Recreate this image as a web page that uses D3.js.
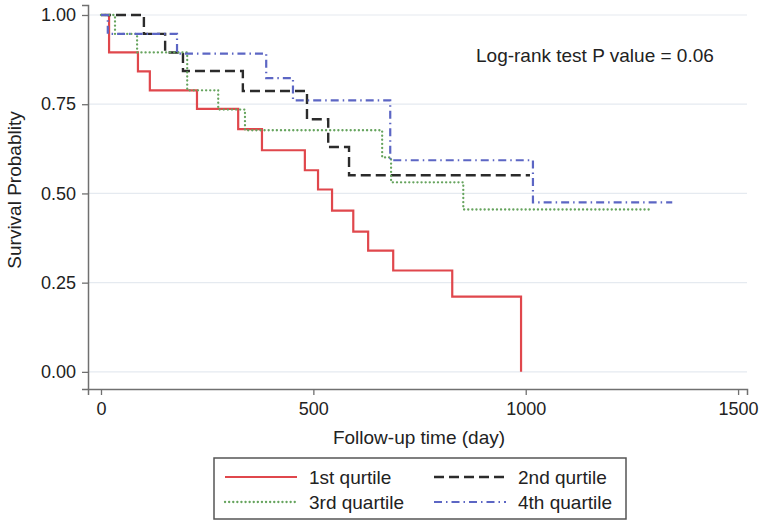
<!DOCTYPE html>
<html>
<head>
<meta charset="utf-8">
<script src="https://cdn.jsdelivr.net/npm/d3@7"></script>
<style>
  html, body { margin: 0; padding: 0; background: #ffffff; }
  svg { display: block; font-family: "Liberation Sans", Arial, Helvetica, sans-serif; }
</style>
</head>
<body>
<svg id="chart" width="760" height="526"></svg>
<script>
// ---- Data ----
const q1Days = [0, 19, 87, 115, 226, 323, 379, 480, 511, 544, 594, 629, 688, 827, 989];
const q1Surv = [1, 0.895, 0.842, 0.789, 0.737, 0.68, 0.621, 0.565, 0.511, 0.452, 0.393, 0.34, 0.284, 0.211, 0];

const q2Days = [0, 101, 151, 193, 334, 485, 535, 584, 1010];
const q2Surv = [1, 0.947, 0.895, 0.843, 0.787, 0.708, 0.630, 0.551, 0.551];

const q3Days = [0, 33, 85, 203, 276, 339, 662, 683, 853, 1298];
const q3Surv = [1, 0.947, 0.895, 0.789, 0.735, 0.677, 0.601, 0.531, 0.455, 0.455];

const q4Days = [0, 16, 179, 389, 452, 681, 1017, 1345];
const q4Surv = [1, 0.947, 0.892, 0.823, 0.761, 0.593, 0.475, 0.475];

const seriesNames = ["1st qurtile", "2nd qurtile", "3rd quartile", "4th quartile"];
const xTicks = [0, 500, 1000, 1500];
const yTicks = [0, 0.25, 0.5, 0.75, 1];
const xTitle = "Follow-up time (day)";
const yTitle = "Survival Probablity";
const note = "Log-rank test P value = 0.06";

// ---- Styles ----
const styles = [
  { color: "#e0474c", width: 2.2, dash: null, cap: "butt" },
  { color: "#2b2b2b", width: 2.4, dash: "10,5", cap: "butt" },
  { color: "#66a45e", width: 2.3, dash: "0.1,4", cap: "round" },
  { color: "#5c66c4", width: 2.2, dash: "8,4,1.5,4", cap: "butt" }
];

const series = [
  { days: q1Days, surv: q1Surv },
  { days: q2Days, surv: q2Surv },
  { days: q3Days, surv: q3Surv },
  { days: q4Days, surv: q4Surv }
].map((s, i) => ({ name: seriesNames[i], style: styles[i], pts: s.days.map((d, j) => [d, s.surv[j]]) }));

const svg = d3.select("#chart");
const FS = 19;
const TFS = 18;

const x = d3.scaleLinear().domain([-30.6, 1521]).range([88, 747]);
const y = d3.scaleLinear().domain([-0.048, 1.028]).range([389, 5]);

// gridlines
svg.append("g").selectAll("line").data(yTicks).join("line")
  .attr("x1", 89).attr("x2", 747)
  .attr("y1", d => y(d)).attr("y2", d => y(d))
  .attr("stroke", "#e5eaf0").attr("stroke-width", 1.2);

// axes
const axisColor = "#707070";
const xAxis = svg.append("g").attr("transform", "translate(0,389)")
  .call(d3.axisBottom(x).tickValues(xTicks).tickFormat(d3.format("d")).tickSizeOuter(0).tickSize(6).tickPadding(7));
const yAxis = svg.append("g").attr("transform", "translate(88,0)")
  .call(d3.axisLeft(y).tickValues(yTicks).tickFormat(d3.format(".2f")).tickSizeOuter(0).tickSize(6).tickPadding(6));

[xAxis, yAxis].forEach(g => {
  g.select(".domain").attr("stroke", axisColor).attr("stroke-width", 1.5);
  g.selectAll(".tick line").attr("stroke", axisColor).attr("stroke-width", 1.3);
  g.selectAll(".tick text").attr("fill", "#222").attr("font-size", TFS)
    .attr("font-family", "'Liberation Sans', Arial, sans-serif");
});

// curves
const line = d3.line().x(d => x(d[0])).y(d => y(d[1])).curve(d3.curveStepAfter);
svg.append("g").selectAll("path").data(series).join("path")
  .attr("d", d => line(d.pts))
  .attr("fill", "none")
  .attr("stroke", d => d.style.color)
  .attr("stroke-width", d => d.style.width)
  .attr("stroke-dasharray", d => d.style.dash)
  .attr("stroke-linecap", d => d.style.cap);

// titles
svg.append("text").attr("x", 419).attr("y", 444).attr("text-anchor", "middle")
  .attr("font-size", FS).attr("fill", "#222").text(xTitle);
svg.append("text").attr("transform", "translate(21,190) rotate(-90)").attr("text-anchor", "middle")
  .attr("font-size", FS).attr("fill", "#222").text(yTitle);

// annotation
svg.append("text").attr("x", 476).attr("y", 62).attr("font-size", FS).attr("fill", "#222").text(note);

// legend
const lg = svg.append("g");
lg.append("rect").attr("x", 214).attr("y", 458).attr("width", 412).attr("height", 61)
  .attr("fill", "#fff").attr("stroke", "#555").attr("stroke-width", 1.5);
const legPos = [
  { lx: 225, ty: 477 }, { lx: 434, ty: 477 },
  { lx: 225, ty: 502 }, { lx: 434, ty: 502 }
];
series.forEach((s, i) => {
  const p = legPos[i];
  lg.append("line").attr("x1", p.lx).attr("x2", p.lx + 72).attr("y1", p.ty).attr("y2", p.ty)
    .attr("stroke", s.style.color).attr("stroke-width", s.style.width)
    .attr("stroke-dasharray", s.style.dash).attr("stroke-linecap", s.style.cap);
  lg.append("text").attr("x", p.lx + 84).attr("y", p.ty + 6.5).attr("font-size", FS)
    .attr("fill", "#222").text(s.name);
});
</script>
</body>
</html>
